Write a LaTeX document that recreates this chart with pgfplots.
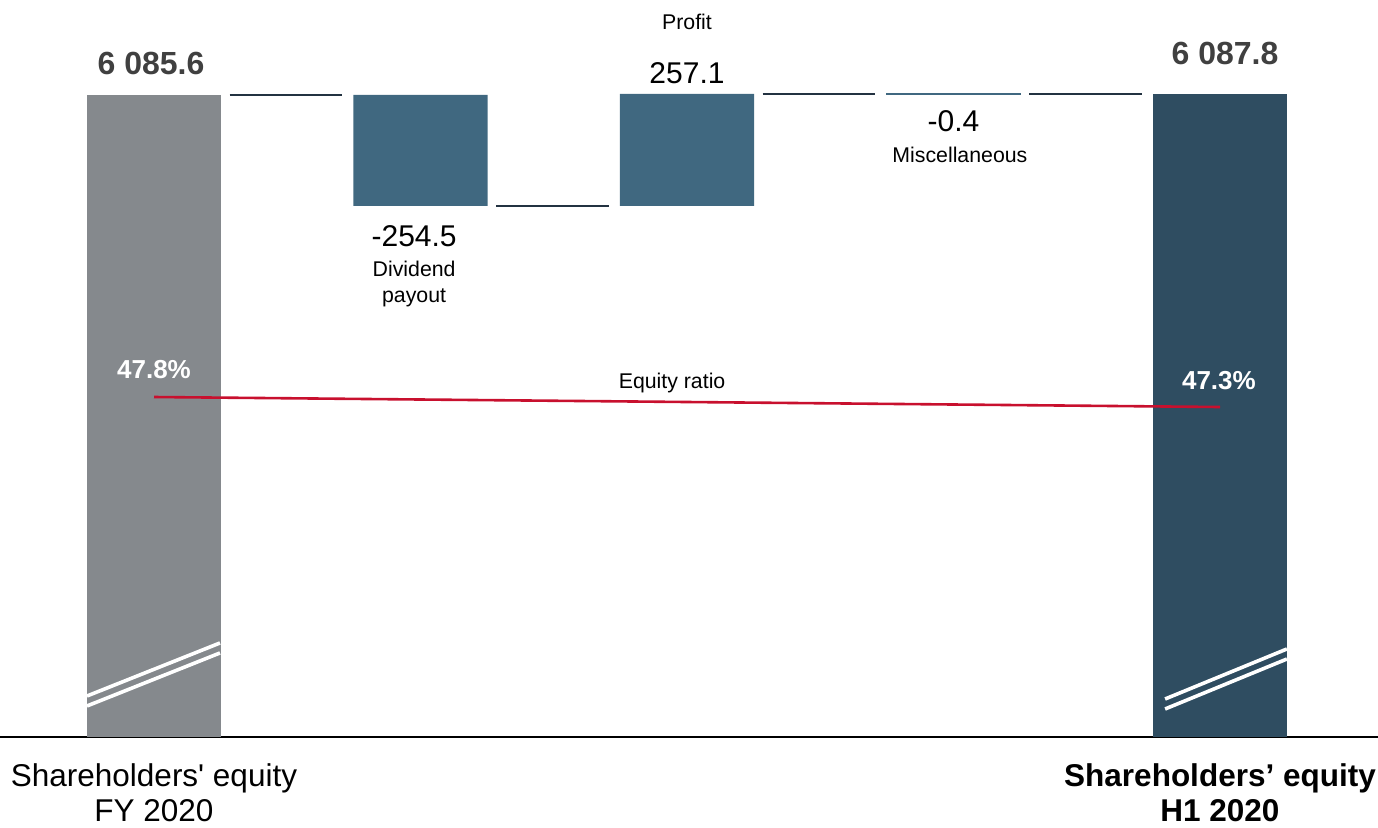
\documentclass[border=0pt]{standalone}
\usepackage{fontspec}
\setmainfont{Liberation Sans}
\usepackage{pgfplots}
\pgfplotsset{compat=1.18}

\definecolor{startgray}{RGB}{133,137,141}
\definecolor{stepblue}{RGB}{64,104,128}
\definecolor{enddark}{RGB}{47,77,97}
\definecolor{connector}{RGB}{35,50,65}
\definecolor{ratiored}{RGB}{200,16,46}
\definecolor{valuegray}{RGB}{64,64,64}

% shared frame: every axis uses the same box so the layers line up
\pgfplotsset{
  frame/.style={
    at={(0,0)}, anchor=north west,
    scale only axis, width=689pt, height=368.5pt,
    xmin=-0.5779, xmax=4.5929,
  },
  hidden/.style={axis lines=none, xtick=\empty, ytick=\empty, clip=false},
}
\tikzset{
  bigval/.style={font=\fontsize{16}{19}\selectfont\bfseries, text=valuegray},
  val/.style={font=\fontsize{15}{18}\selectfont},
  small/.style={font=\fontsize{10.65}{13}\selectfont, align=center},
  pct/.style={font=\fontsize{13}{15}\selectfont\bfseries, text=white},
  breakmark/.style={white, line width=1.8pt},
}

\begin{document}
\begin{tikzpicture}
% ---- waterfall bars (broken value axis starting at 4613) ----
\begin{axis}[
  frame,
  ymin=4613, ymax=6303.5,
  ybar stacked, bar width=0.503,
  axis y line=none, axis x line*=bottom,
  x axis line style={black, line width=1pt},
  ytick=\empty,
  xtick={0,4}, major tick length=0pt,
  xticklabels={{Shareholders\textquotesingle{} equity\\FY 2020},
               {\bfseries Shareholders’ equity\\\bfseries H1 2020}},
  xticklabel style={align=center, inner sep=0pt, yshift=-13.2pt,
                    font=\fontsize{15.75}{17.5}\selectfont, text=black},
  clip mode=individual,
]
% invisible base of the floating bars
\addplot[draw=none, fill=none] coordinates {(0,0) (1,5831.1) (2,5831.1) (3,6087.8) (4,0)};
% miscellaneous change (too small to see without an outline)
\addplot[fill=stepblue, draw=stepblue, line width=0.6pt] coordinates {(0,0) (1,0) (2,0) (3,0.4) (4,0)};
% opening equity
\addplot[draw=none, fill=startgray] coordinates {(0,6085.6) (1,0) (2,0) (3,0) (4,0)};
% dividend payout and profit
\addplot[draw=none, fill=stepblue] coordinates {(0,0) (1,254.5) (2,257.1) (3,0) (4,0)};
% closing equity
\addplot[draw=none, fill=enddark] coordinates {(0,0) (1,0) (2,0) (3,0) (4,6087.8)};
\end{axis}

% ---- connectors, value labels and axis-break marks ----
\begin{axis}[frame, hidden, ymin=4613, ymax=6303.5]
\addplot[connector, line width=1pt] coordinates {(0.284,6085.6) (0.706,6085.6)};
\addplot[connector, line width=1pt] coordinates {(1.284,5831.1) (1.706,5831.1)};
\addplot[connector, line width=1pt] coordinates {(2.284,6088.2) (2.706,6088.2)};
\addplot[connector, line width=1pt] coordinates {(3.284,6087.8) (3.706,6087.8)};

\draw[breakmark] (axis cs:-0.2514,4707.1) -- (axis cs:0.2477,4828.7);
\draw[breakmark] (axis cs:-0.2514,4684.2) -- (axis cs:0.2477,4805.8);
\draw[breakmark] (axis cs:3.794,4700.2) -- (axis cs:4.251,4814.9);
\draw[breakmark] (axis cs:3.794,4677.3) -- (axis cs:4.251,4791.9);

\node[bigval] at (axis cs:-0.011,6159.0) {6 085.6};
\node[bigval] at (axis cs:4.019,6181.9) {6 087.8};
\node[val] at (axis cs:0.976,5762.2) {-254.5};
\node[small] at (axis cs:0.976,5652.0) {Dividend\\payout};
\node[small] at (axis cs:2,6253.0) {Profit};
\node[val] at (axis cs:2,6136.1) {257.1};
\node[val] at (axis cs:3,6026.0) {-0.4};
\node[small] at (axis cs:3.024,5948.0) {Miscellaneous};
\end{axis}

% ---- equity ratio on its own scale ----
\begin{axis}[frame, hidden, ymin=30.8, ymax=67.65]
\addplot[ratiored, line width=1.3pt] coordinates {(0,47.8) (4,47.3)};
\node[pct] at (axis cs:0,49.15) {47.8\%};
\node[pct] at (axis cs:3.996,48.6) {47.3\%};
\node[small] at (axis cs:1.944,48.5) {Equity ratio};
\end{axis}

\pgfresetboundingbox
\useasboundingbox (0,0) rectangle (689pt,-413.5pt);
\end{tikzpicture}
\end{document}
